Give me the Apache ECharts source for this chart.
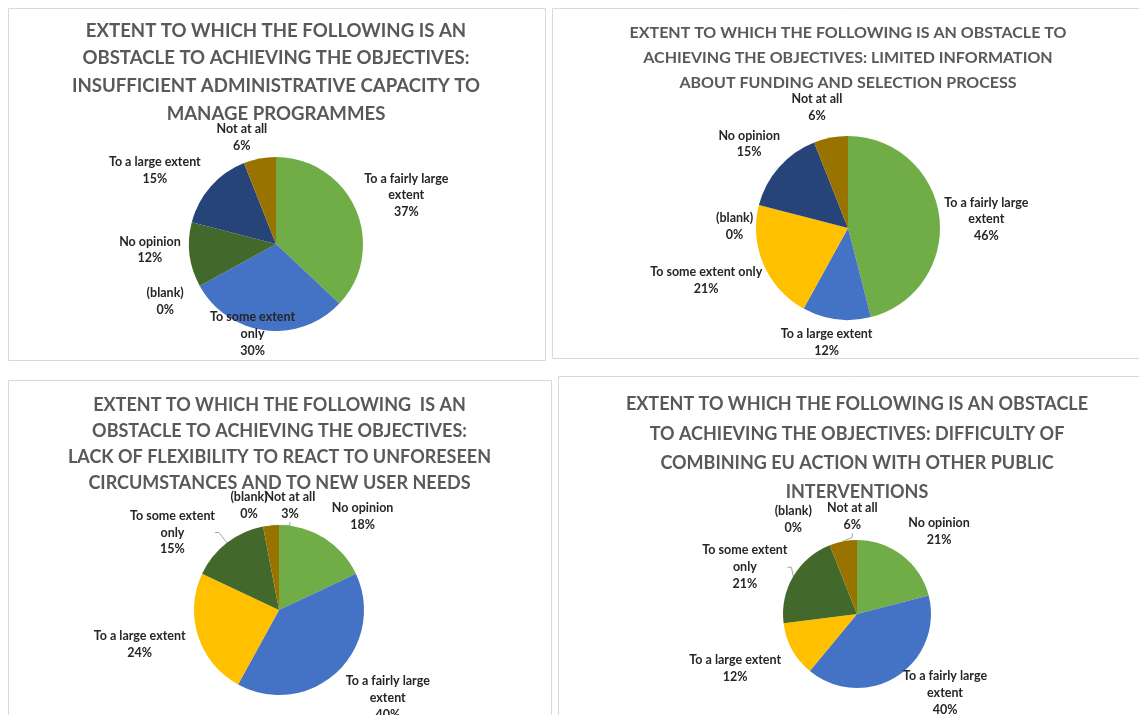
<!DOCTYPE html>
<html><head><meta charset="utf-8">
<script src="https://cdn.jsdelivr.net/npm/echarts@6/dist/echarts.min.js"></script>
<style>html,body{margin:0;padding:0;background:#fff}#c{width:1139px;height:715px}</style>
</head><body><div id="c"></div>
<script>
// ---- data ----
const titles = [
  'EXTENT TO WHICH THE FOLLOWING IS AN\nOBSTACLE TO ACHIEVING THE OBJECTIVES:\nINSUFFICIENT ADMINISTRATIVE CAPACITY TO\nMANAGE PROGRAMMES',
  'EXTENT TO WHICH THE FOLLOWING IS AN OBSTACLE TO\nACHIEVING THE OBJECTIVES: LIMITED INFORMATION\nABOUT FUNDING AND SELECTION PROCESS',
  'EXTENT TO WHICH THE FOLLOWING  IS AN\nOBSTACLE TO ACHIEVING THE OBJECTIVES:\nLACK OF FLEXIBILITY TO REACT TO UNFORESEEN\nCIRCUMSTANCES AND TO NEW USER NEEDS',
  'EXTENT TO WHICH THE FOLLOWING IS AN OBSTACLE\nTO ACHIEVING THE OBJECTIVES: DIFFICULTY OF\nCOMBINING EU ACTION WITH OTHER PUBLIC\nINTERVENTIONS'
];
const cats1 = ['To a fairly large extent','To some extent only','(blank)','No opinion','To a large extent','Not at all'];
const vals1 = [37, 30, 0, 12, 15, 6];
const cats2 = ['To a fairly large extent','To a large extent','To some extent only','(blank)','No opinion','Not at all'];
const vals2 = [46, 12, 21, 0, 15, 6];
const cats3 = ['No opinion','To a fairly large extent','To a large extent','To some extent only','(blank)','Not at all'];
const vals3 = [18, 40, 24, 15, 0, 3];
const cats4 = ['No opinion','To a fairly large extent','To a large extent','To some extent only','(blank)','Not at all'];
const vals4 = [21, 40, 12, 21, 0, 6];
// how each chart wraps its data labels
const wraps1 = {'To a fairly large extent':'To a fairly large\nextent','To some extent only':'To some extent\nonly'};
const wraps2 = {'To a fairly large extent':'To a fairly large\nextent'};
const wraps3 = {'To a fairly large extent':'To a fairly large\nextent','To some extent only':'To some extent\nonly'};
const wraps4 = {'To a fairly large extent':'To a fairly large\nextent','To some extent only':'To some extent\nonly'};

// ---- styles ----
const colorOf = {
  'light green':'#70AD47','blue':'#4472C4','dark green':'#43682B',
  'dark blue':'#264478','brown':'#997300','gold':'#FFC000','none':'#A5A5A5'
};
const colors1 = ['light green','blue','none','dark green','dark blue','brown'];
const colors2 = ['light green','blue','gold','none','dark blue','brown'];
const colors3 = ['light green','blue','gold','dark green','none','brown'];
const colors4 = ['light green','blue','gold','dark green','none','brown'];
const leaderLines3 = ['To some extent only','Not at all'];
const leaderLines4 = ['To some extent only','Not at all'];

// ---- layout ----
const panels = [
  {x:8, y:8, w:537, h:352, cx:276, cy:244, r:87, tX:276, tTop:17, tSize:18.6, tLH:27.6},
  {x:552, y:8, w:600, h:350, cx:848, cy:228, r:92, tX:848, tTop:20, tSize:16, tLH:25},
  {x:8, y:380, w:543, h:360, cx:279, cy:610, r:85, tX:279.5, tTop:392, tSize:18, tLH:26},
  {x:558, y:376, w:600, h:360, cx:857, cy:614, r:74, tX:857, tTop:390, tSize:18, tLH:29.3}
];
// label nudges (px) relative to the library's default outside placement
const nudges1 = {'To a fairly large extent':[-8,-11],'To some extent only':[40,-4],'(blank)':[0,12],
  'No opinion':[8,-6],'To a large extent':[5,-11],'Not at all':[18,-13]};
const nudges2 = {'To a fairly large extent':[-12,4],'To a large extent':[46,15],'To some extent only':[15,13],
  '(blank)':[11,23],'No opinion':[16,-18],'Not at all':[22,-22]};
const nudges3 = {'No opinion':[-6,-15],'To a fairly large extent':[-6,20],'To a large extent':[4,6],
  'To some extent only':[2,-4],'(blank)':[15,-13],'Not at all':[54,-12]};
const nudges4 = {'No opinion':[-8,-18],'To a fairly large extent':[-7,10],'To a large extent':[5,15],
  'To some extent only':[10,-5],'(blank)':[-6,-18],'Not at all':[45,-17]};
const labelFont = 'Lato, "Open Sans", sans-serif';

function buildSeries(cats, vals, cols, wraps, leaders, nudges, p){
  return {
    type:'pie', center:[p.cx, p.cy], radius:p.r, startAngle:90, clockwise:true,
    avoidLabelOverlap:false, animation:false,
    data: cats.map((c,i)=>({
      name:c, value:vals[i],
      itemStyle:{color:colorOf[cols[i]]},
      labelLine:{show: leaders.indexOf(c)>=0}
    })),
    label:{
      show:true, position:'outside', color:'#262626', fontWeight:'bold',
      fontSize:12.5, lineHeight:16.8, fontFamily:labelFont,
      formatter: d => (wraps[d.name] || d.name) + '\n' + d.value + '%'
    },
    labelLine:{length:8, length2:4, lineStyle:{color:'#A6A6A6', width:1}},
    labelLayout: function(params){
      const r = params.labelRect;
      const n = nudges[cats[params.dataIndex]] || [0,0];
      return {x: r.x + r.width/2 + n[0], y: r.y + r.height/2 + n[1], align:'center', verticalAlign:'middle'};
    },
    itemStyle:{borderWidth:0},
    emphasis:{disabled:true}
  };
}

const chart = echarts.init(document.getElementById('c'), null, {renderer:'canvas'});
chart.setOption({
  backgroundColor:'#fff',
  graphic: panels.map(p=>({type:'rect', shape:{x:p.x+0.5, y:p.y+0.5, width:p.w, height:p.h},
    style:{fill:'#fff', stroke:'#D9D9D9', lineWidth:1}, z:-10, silent:true})),
  title: panels.map((p,i)=>({
    text:titles[i], left:p.tX, top:p.tTop, textAlign:'center', padding:0,
    textStyle:{fontFamily:labelFont, fontWeight:'bold', fontSize:p.tSize, lineHeight:p.tLH, color:'#595959'}
  })),
  series: [
    buildSeries(cats1, vals1, colors1, wraps1, [], nudges1, panels[0]),
    buildSeries(cats2, vals2, colors2, wraps2, [], nudges2, panels[1]),
    buildSeries(cats3, vals3, colors3, wraps3, leaderLines3, nudges3, panels[2]),
    buildSeries(cats4, vals4, colors4, wraps4, leaderLines4, nudges4, panels[3])
  ]
});
</script></body></html>
